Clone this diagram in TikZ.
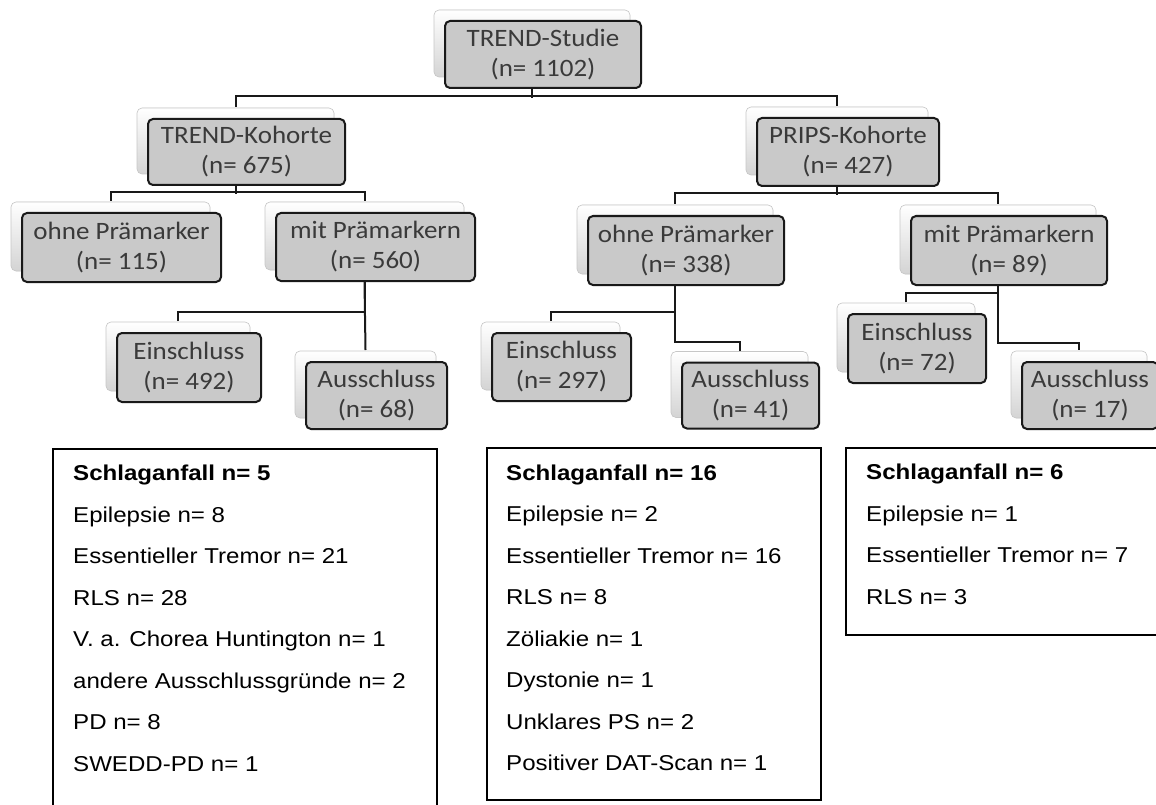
\documentclass[tikz,border=0pt]{standalone}
\usepackage{fontspec}
\setmainfont{Liberation Sans}[FakeStretch=1.12]
\newfontfamily\calibrifont{Carlito}[FakeStretch=1.08]
\usetikzlibrary{shadows}
\definecolor{boxgray}{RGB}{201,201,201}
\definecolor{txtgray}{RGB}{58,58,58}
\definecolor{edgegray}{RGB}{25,25,25}
\tikzset{
  card/.style={draw=edgegray, line width=2pt, rounded corners=5pt, fill=boxgray,
    text=txtgray, font=\calibrifont\fontsize{25}{30}\selectfont, align=center, inner sep=0pt,
    copy shadow={shadow xshift=-11pt, shadow yshift=11pt, draw=black!22, line width=0.6pt,
      top color=white, bottom color=black!17}},
  conn/.style={line width=2pt, draw=edgegray},
  listbox/.style={draw=black, line width=1.5pt, anchor=north west, inner sep=0pt},
  listline/.style={anchor=base west, inner sep=0pt, font=\fontsize{21.5}{24}\selectfont}
}
\begin{document}
\begin{tikzpicture}[x=1pt,y=-1pt]
\useasboundingbox (0,0) rectangle (1156,805);
\clip (0,0) rectangle (1156,805);
\fill[white] (0,0) rectangle (1156,805);

% cards
\node[card, minimum width=196pt, minimum height=67pt] (studie) at (543,54.5) {TREND-Studie\\(n= 1102)};
\node[card, minimum width=197pt, minimum height=66pt] (tk) at (246.5,152) {TREND-Kohorte\\(n= 675)};
\node[card, minimum width=182pt, minimum height=68pt] (pk) at (848,152) {PRIPS-Kohorte\\(n= 427)};
\node[card, minimum width=199pt, minimum height=69pt] (o1) at (121.5,247.5) {ohne Prämarker\\(n= 115)};
\node[card, minimum width=199pt, minimum height=68pt] (m1) at (375.5,247) {mit Prämarkern\\(n= 560)};
\node[card, minimum width=196pt, minimum height=69pt] (o2) at (686,250.5) {ohne Prämarker\\(n= 338)};
\node[card, minimum width=196pt, minimum height=69pt] (m2) at (1009,250.5) {mit Prämarkern\\(n= 89)};
\node[card, minimum width=144pt, minimum height=69pt] (e1) at (189,367.5) {Einschluss\\(n= 492)};
\node[card, minimum width=141pt, minimum height=67pt] (a1) at (376.5,395.5) {Ausschluss\\(n= 68)};
\node[card, minimum width=139pt, minimum height=68pt] (e2) at (561.5,367) {Einschluss\\(n= 297)};
\node[card, minimum width=137pt, minimum height=66pt] (a2) at (750.5,395.5) {Ausschluss\\(n= 41)};
\node[card, minimum width=138pt, minimum height=69pt] (e3) at (917,348.5) {Einschluss\\(n= 72)};
\node[card, minimum width=136pt, minimum height=67pt] (a3) at (1090,395.5) {Ausschluss\\(n= 17)};

% connectors
\draw[conn] ([xshift=-11pt]studie.south) -- ++(0,9);
\draw[conn] ([xshift=-11pt,yshift=11pt]tk.north) -- ++(0,-11) -| ([xshift=-11pt,yshift=11pt]pk.north);
\draw[conn] ([xshift=-11pt]tk.south) -- ++(0,8);
\draw[conn] ([xshift=-11pt,yshift=11pt]o1.north) -- ++(0,-9) -| ([xshift=-11pt,yshift=11pt]m1.north);
\draw[conn] ([xshift=-11pt]pk.south) -- ++(0,8);
\draw[conn] ([xshift=-11pt,yshift=11pt]o2.north) -- ++(0,-11) -| ([xshift=-11pt,yshift=11pt]m2.north);
\draw[conn] ([xshift=-11pt]m1.south) -- ([xshift=-11pt,yshift=11pt]a1.north);
\draw[conn] ([xshift=-11pt,yshift=11pt]e1.north) -- ++(0,-9) -| ([xshift=-11pt]m1.south);
\draw[conn] ([xshift=-11pt]o2.south) -- ++(0,56) -| ([xshift=-11pt,yshift=11pt]a2.north);
\draw[conn] ([xshift=-11pt,yshift=11pt]e2.north) -- ++(0,-9) -| ([xshift=-11pt]o2.south);
\draw[conn] ([xshift=-11pt]m2.south) -- ++(0,57) -| ([xshift=-11pt,yshift=11pt]a3.north);
\draw[conn] ([xshift=-11pt,yshift=11pt]e3.north) -- ++(0,-9) -| ([xshift=-11pt]m2.south);

% list boxes
\node[listbox, minimum width=384pt, minimum height=370pt] (lb1) at (52,448) {};
\node[listbox, minimum width=334pt, minimum height=352pt] (lb2) at (486,447) {};
\node[listbox, minimum width=320pt, minimum height=187pt] (lb3) at (845,447) {};

\foreach \t [count=\i from 0] in {{\bfseries Schlaganfall n= 5},Epilepsie n= 8,Essentieller Tremor n= 21,RLS n= 28,V. a. Chorea Huntington n= 1,andere Ausschlussgründe n= 2,PD n= 8,SWEDD-PD n= 1}
  \node[listline] (la\i) at (73,480.7+41.5*\i) {\t};
\foreach \t [count=\i from 0] in {{\bfseries Schlaganfall n= 16},Epilepsie n= 2,Essentieller Tremor n= 16,RLS n= 8,Zöliakie n= 1,Dystonie n= 1,Unklares PS n= 2,Positiver DAT-Scan n= 1}
  \node[listline] (lm\i) at (506,480.2+41.5*\i) {\t};
\foreach \t [count=\i from 0] in {{\bfseries Schlaganfall n= 6},Epilepsie n= 1,Essentieller Tremor n= 7,RLS n= 3}
  \node[listline] (lr\i) at (866,479.5+41.5*\i) {\t};
\end{tikzpicture}
\end{document}
